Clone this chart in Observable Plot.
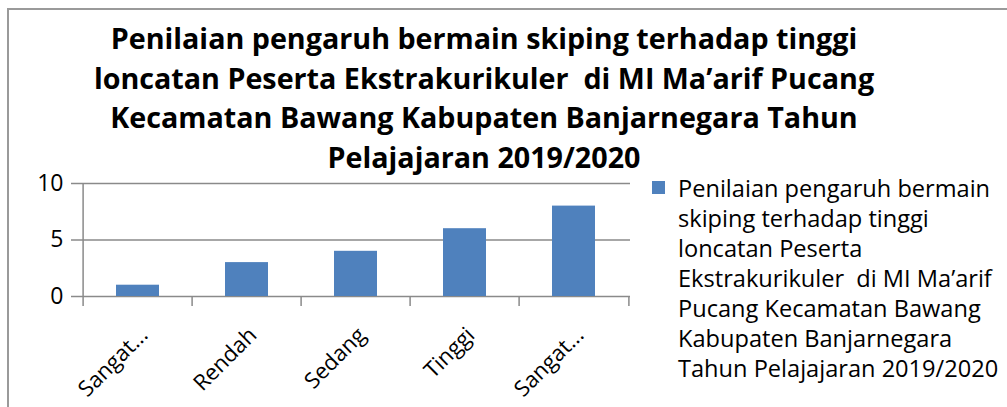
<!DOCTYPE html>
<html>
<head>
<meta charset="utf-8">
<script src="https://cdn.jsdelivr.net/npm/d3@7"></script>
<script src="https://cdn.jsdelivr.net/npm/@observablehq/plot@0.6"></script>
<style>
  html, body { margin: 0; padding: 0; background: #fff; }
  #wrap { position: relative; width: 1007px; height: 407px; overflow: hidden; font-family: "Open Sans", sans-serif; color: #000; }
  #border { position: absolute; left: 7px; top: 8px; width: 1100px; height: 500px; border-left: 2px solid #9a9a9a; border-top: 2px solid #9a9a9a; }
  #title { position: absolute; left: 0; width: 968px; top: 18px; text-align: center; font-weight: bold; font-size: 28.7px; line-height: 39.5px; white-space: pre; }
  #title div { display: block; }
  #chart { position: absolute; left: 0; top: 0; }
  #legend { position: absolute; left: 652px; top: 173px; font-size: 23.6px; line-height: 30px; white-space: pre; }
  #legend .sw { position: absolute; left: 0; top: 8px; width: 13px; height: 13px; }
  #legend .txt { position: absolute; left: 26px; top: 0; }
</style>
</head>
<body>
<div id="wrap">
  <div id="border"></div>
  <div id="chart"></div>
  <div id="title"></div>
  <div id="legend"><div class="sw"></div><div class="txt"></div></div>
</div>
<script>
// ---- data ----
const categories = ["Sangat Rendah", "Rendah", "Sedang", "Tinggi", "Sangat Tinggi"];
const tickLabels = ["Sangat...", "Rendah", "Sedang", "Tinggi", "Sangat..."];
const values = [1, 3, 4, 6, 8];
const yTicks = [0, 5, 10];
const titleLines = [
  "Penilaian pengaruh bermain skiping terhadap tinggi",
  "loncatan Peserta Ekstrakurikuler  di MI Ma\u2019arif Pucang",
  "Kecamatan Bawang Kabupaten Banjarnegara Tahun",
  "Pelajajaran 2019/2020"
];
const legendLines = [
  "Penilaian pengaruh bermain",
  "skiping terhadap tinggi",
  "loncatan Peserta",
  "Ekstrakurikuler  di MI Ma\u2019arif",
  "Pucang Kecamatan Bawang",
  "Kabupaten Banjarnegara",
  "Tahun Pelajajaran 2019/2020"
];
const barColor = "#4F81BD";
const lineColor = "#8a8a8a";

// ---- layout ----
const W = 1007, H = 407;
const mL = 81, mR = 377, mT = 183, mB = 111;
const step = (W - mL - mR) / categories.length;

const table = categories.map((c, i) => ({category: c, value: values[i]}));

const chart = Plot.plot({
  width: W,
  height: H,
  marginLeft: mL,
  marginRight: mR,
  marginTop: mT,
  marginBottom: mB,
  style: {background: "transparent", fontFamily: "Open Sans, sans-serif", fontSize: "23px", color: "#000", overflow: "visible"},
  x: {domain: categories, paddingInner: 0.61, paddingOuter: 0.305, label: null},
  y: {domain: [0, 10], label: null},
  marks: [
    Plot.ruleY(yTicks, {stroke: lineColor, strokeWidth: 1.5}),
    Plot.barY(table, {x: "category", y: "value", fill: barColor}),
    // category boundary ticks (and vertical axis line at the first one)
    Plot.ruleX([categories[0]], {x: d => d, y1: 10, y2: 0, insetBottom: -10, dx: -step / 2, stroke: lineColor, strokeWidth: 1.5}),
    Plot.ruleX(categories.slice(1), {x: d => d, y1: 0, y2: 0, insetBottom: -10, dx: -step / 2, stroke: lineColor, strokeWidth: 1.5}),
    Plot.ruleX([categories[categories.length - 1]], {x: d => d, y1: 0, y2: 0, insetBottom: -10, dx: step / 2, stroke: lineColor, strokeWidth: 1.5}),
    Plot.axisY({ticks: yTicks, tickSize: 10, tickPadding: 8, stroke: lineColor, strokeWidth: 1.5, fill: "#000", fontSize: 23}),
    Plot.axisX({tickSize: 0, tickPadding: 35, dx: 6, tickRotate: -45, tickFormat: d => tickLabels[categories.indexOf(d)], fill: "#000", fontSize: 22})
  ]
});
document.getElementById("chart").appendChild(chart);

// title
const t = document.getElementById("title");
titleLines.forEach(s => { const d = document.createElement("div"); d.textContent = s; t.appendChild(d); });

// legend
document.querySelector("#legend .sw").style.background = barColor;
document.querySelector("#legend .txt").textContent = legendLines.join("\n");
</script>
</body>
</html>
